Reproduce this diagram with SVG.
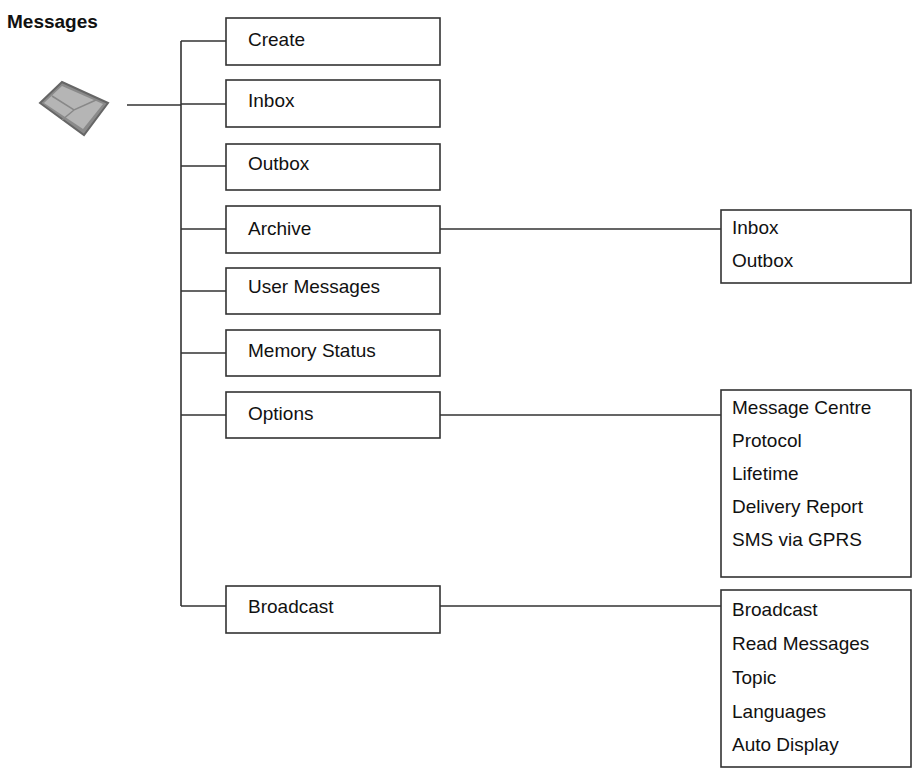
<svg xmlns="http://www.w3.org/2000/svg" width="917" height="776" viewBox="0 0 917 776">
<style>
.b{fill:#fff;stroke:#333;stroke-width:1.6}
.t{font-family:"Liberation Sans",Arial,sans-serif;font-size:19px;fill:#111}
.c{stroke:#333;stroke-width:1.6;fill:none}
</style>
<rect width="917" height="776" fill="#fff"/>
<text x="7" y="28" font-family="Liberation Sans,Arial,sans-serif" font-size="19" font-weight="bold" fill="#111">Messages</text>
<g id="icon">
<path d="M40,103 L62,82 L108,103 L84,135 Z" fill="#8a8a8a" stroke="#666" stroke-width="2"/>
<path d="M44,103 L62,86 L103,104 L83,129 Z" fill="#b5b5b5"/>
<path d="M52,96 L74,110 L96,100 M62,120 L74,110" stroke="#888" stroke-width="1.5" fill="none"/>
</g>
<g id="connectors" class="c">
<path d="M127,105 H181 M181,41 V606 M181,41 H226 M181,104 H226 M181,166 H226 M181,229 H226 M181,291 H226 M181,353 H226 M181,415 H226 M181,606 H226 M440,229 H721 M440,415 H721 M440,606 H721"/>
</g>
<g id="n-create"><rect class="b" x="226" y="18" width="214" height="47"/><text class="t" x="248" y="46">Create</text></g>
<g id="n-inbox"><rect class="b" x="226" y="80" width="214" height="47"/><text class="t" x="248" y="107">Inbox</text></g>
<g id="n-outbox"><rect class="b" x="226" y="144" width="214" height="46"/><text class="t" x="248" y="170">Outbox</text></g>
<g id="n-archive"><rect class="b" x="226" y="206" width="214" height="47"/><text class="t" x="248" y="235">Archive</text></g>
<g id="n-user"><rect class="b" x="226" y="268" width="214" height="46"/><text class="t" x="248" y="293">User Messages</text></g>
<g id="n-memory"><rect class="b" x="226" y="330" width="214" height="46"/><text class="t" x="248" y="357">Memory Status</text></g>
<g id="n-options"><rect class="b" x="226" y="392" width="214" height="46"/><text class="t" x="248" y="420">Options</text></g>
<g id="n-broadcast"><rect class="b" x="226" y="586" width="214" height="47"/><text class="t" x="248" y="613">Broadcast</text></g>
<g id="n-archive-sub"><rect class="b" x="721" y="210" width="190" height="73"/><text class="t" x="732" y="234">Inbox</text><text class="t" x="732" y="267">Outbox</text></g>
<g id="n-options-sub"><rect class="b" x="721" y="390" width="190" height="187"/>
<text class="t" x="732" y="414">Message Centre</text><text class="t" x="732" y="447">Protocol</text><text class="t" x="732" y="480">Lifetime</text><text class="t" x="732" y="513">Delivery Report</text><text class="t" x="732" y="546">SMS via GPRS</text></g>
<g id="n-broadcast-sub"><rect class="b" x="721" y="590" width="190" height="177"/>
<text class="t" x="732" y="616">Broadcast</text><text class="t" x="732" y="650">Read Messages</text><text class="t" x="732" y="684">Topic</text><text class="t" x="732" y="718">Languages</text><text class="t" x="732" y="751">Auto Display</text></g>
</svg>
